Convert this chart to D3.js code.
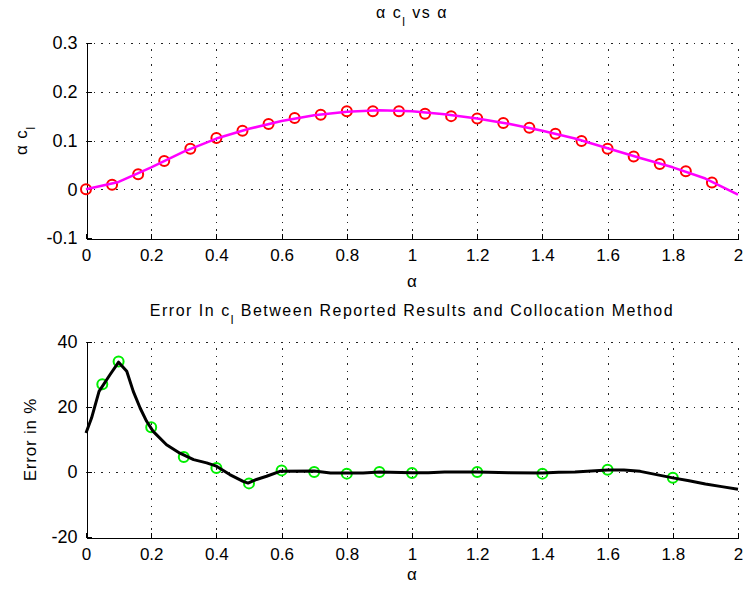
<!DOCTYPE html>
<html>
<head>
<meta charset="utf-8">
<script src="https://cdn.jsdelivr.net/npm/d3@7"></script>
<style>
  html, body { margin: 0; padding: 0; background: #ffffff; }
  svg { display: block; }
  text { font-family: "Liberation Sans", Arial, sans-serif; fill: #000; }
</style>
</head>
<body>
<svg id="chart" width="743" height="594"></svg>
<script>
// ---------- DATA ----------
// Top panel: alpha * c_l vs alpha
const topMarkerAlpha = [0, 0.08, 0.16, 0.24, 0.32, 0.40, 0.48, 0.56, 0.64, 0.72, 0.80, 0.88, 0.96,
  1.04, 1.12, 1.20, 1.28, 1.36, 1.44, 1.52, 1.60, 1.68, 1.76, 1.84, 1.92];
const topMarkerValue = [0, 0.009, 0.031, 0.058, 0.083, 0.105, 0.120, 0.134, 0.146, 0.153, 0.160, 0.160, 0.160,
  0.155, 0.150, 0.145, 0.136, 0.126, 0.114, 0.099, 0.083, 0.067, 0.052, 0.037, 0.014];
const topLineAlpha = [0, 0.1, 0.2, 0.3, 0.4, 0.5, 0.6, 0.7, 0.8, 0.9, 1.0, 1.1, 1.2, 1.3, 1.4, 1.5, 1.6, 1.7, 1.8, 1.9, 2.0];
const topLineValue = [0, 0.015, 0.045, 0.077, 0.104, 0.124, 0.140, 0.152, 0.159, 0.162, 0.160, 0.154, 0.145,
  0.134, 0.120, 0.104, 0.084, 0.064, 0.045, 0.022, -0.011];

// Bottom panel: error in c_l (%)
const errMarkerAlpha = [0.05, 0.1, 0.2, 0.3, 0.4, 0.5, 0.6, 0.7, 0.8, 0.9, 1.0, 1.2, 1.4, 1.6, 1.8];
const errMarkerValue = [27, 34, 13.8, 4.6, 1.2, -3.5, 0.5, 0, -0.5, 0, -0.3, 0, -0.5, 0.7, -1.8];
const errLineAlpha = [0, 0.017, 0.04, 0.074, 0.1, 0.125, 0.145, 0.166, 0.186, 0.206, 0.247, 0.288, 0.33, 0.37,
  0.40, 0.441, 0.482, 0.497, 0.523, 0.554, 0.595, 0.7, 0.75, 0.85, 0.9, 1.0, 1.05, 1.1, 1.2, 1.3, 1.4, 1.45,
  1.5, 1.55, 1.6, 1.65, 1.7, 1.75, 1.8, 1.85, 1.9, 1.95, 2.0];
const errLineValue = [12, 16.6, 24.8, 30, 33.8, 31, 24.8, 19.7, 15.6, 12.5, 8.4, 5.8, 3.8, 2.8,
  1.8, -0.8, -2.9, -3.4, -2.3, -1.3, 0.2, 0.3, -0.3, -0.3, 0, -0.2, -0.2, 0, 0, -0.2, -0.3, -0.1,
  0, 0.3, 0.6, 0.6, 0.2, -0.8, -1.8, -2.7, -3.7, -4.5, -5.3];

// Tick labels
const xTickValues = [0, 0.2, 0.4, 0.6, 0.8, 1, 1.2, 1.4, 1.6, 1.8, 2];
const xTickLabels = ["0", "0.2", "0.4", "0.6", "0.8", "1", "1.2", "1.4", "1.6", "1.8", "2"];
const topYTickValues = [-0.1, 0, 0.1, 0.2, 0.3];
const topYTickLabels = ["-0.1", "0", "0.1", "0.2", "0.3"];
const botYTickValues = [-20, 0, 20, 40];
const botYTickLabels = ["-20", "0", "20", "40"];

// ---------- DRAW ----------
const svg = d3.select("#chart");
const left = 86, right = 738;

function panel(cfg) {
  const x = d3.scaleLinear().domain([0, 2]).range([left, right]);
  const y = d3.scaleLinear().domain(cfg.yDomain).range([cfg.bottom, cfg.top]);
  const g = svg.append("g");

  // grid (dotted)
  const grid = g.append("g").attr("shape-rendering", "crispEdges")
    .attr("stroke", "#222").attr("stroke-width", 1.5).attr("stroke-dasharray", "1.5,6");
  grid.selectAll("line.gx").data(xTickValues.slice(1)).enter().append("line")
    .attr("x1", d => Math.round(x(d)) + 0.5).attr("x2", d => Math.round(x(d)) + 0.5)
    .attr("y1", cfg.bottom).attr("y2", cfg.top);
  grid.selectAll("line.gy").data(cfg.yTicks.slice(1)).enter().append("line")
    .attr("y1", d => Math.round(y(d)) + 0.5).attr("y2", d => Math.round(y(d)) + 0.5)
    .attr("x1", left).attr("x2", right);

  // axes
  const xAxis = d3.axisBottom(x).tickValues(xTickValues)
    .tickFormat((d, i) => xTickLabels[i]).tickSizeInner(-5).tickSizeOuter(0).tickPadding(10);
  const yAxis = d3.axisLeft(y).tickValues(cfg.yTicks)
    .tickFormat((d, i) => cfg.yLabels[i]).tickSizeInner(-5).tickSizeOuter(0).tickPadding(9);

  const gx = g.append("g").attr("transform", `translate(0,${cfg.bottom + 0.5})`).call(xAxis);
  const gy = g.append("g").attr("transform", `translate(${left + 0.5},0)`).call(yAxis);
  [gx, gy].forEach(a => {
    a.selectAll("path, line").attr("stroke", "#000").attr("shape-rendering", "crispEdges");
    a.selectAll("text").attr("font-size", 18).attr("font-family", '"Liberation Sans", Arial, sans-serif')
      .attr("fill", "#111");
  });
  gx.selectAll("text").attr("font-size", 17).attr("dy", "0.71em");

  // series
  const line = d3.line().x(d => x(d[0])).y(d => y(d[1]));
  const markers = cfg.mx.map((v, i) => [v, cfg.my[i]]);
  const pts = cfg.lx.map((v, i) => [v, cfg.ly[i]]);

  g.append("g").selectAll("circle").data(markers).enter().append("circle")
    .attr("cx", d => x(d[0])).attr("cy", d => y(d[1])).attr("r", 5)
    .attr("fill", "none").attr("stroke", cfg.markerColor).attr("stroke-width", 2);
  g.append("path").datum(pts).attr("d", line)
    .attr("fill", "none").attr("stroke", cfg.lineColor).attr("stroke-width", cfg.lineWidth)
    .attr("stroke-linejoin", "round");

  // title
  const t = g.append("text").attr("x", (left + right) / 2).attr("y", cfg.titleY)
    .attr("text-anchor", "middle").attr("font-size", 16).attr("letter-spacing", 1.5);
  cfg.title.forEach(p => {
    const ts = t.append("tspan").text(p.t);
    if (p.sub) ts.attr("font-size", 12).attr("dy", 8);
    if (p.up) ts.attr("dy", -8);
  });

  // x label
  g.append("text").attr("x", (left + right) / 2).attr("y", cfg.xLabelY)
    .attr("text-anchor", "middle").attr("font-size", 17).text("α");

  // y label
  const yl = g.append("text")
    .attr("transform", `translate(${cfg.yLabelX},${(cfg.top + cfg.bottom) / 2}) rotate(-90)`)
    .attr("text-anchor", "middle").attr("font-size", 17).attr("letter-spacing", 0.8);
  cfg.yLabel.forEach(p => {
    const ts = yl.append("tspan").text(p.t);
    if (p.sub) ts.attr("font-size", 12).attr("dy", 8);
  });
}

panel({
  top: 43, bottom: 238, yDomain: [-0.1, 0.3], yTicks: topYTickValues, yLabels: topYTickLabels,
  mx: topMarkerAlpha, my: topMarkerValue, lx: topLineAlpha, ly: topLineValue,
  markerColor: "#ff0000", lineColor: "#ff00ff", lineWidth: 2.5,
  titleY: 17.5, title: [{t: "α c"}, {t: "l", sub: true}, {t: " vs α", up: true}],
  xLabelY: 287, yLabelX: 27, yLabel: [{t: "α c"}, {t: "l", sub: true}]
});

panel({
  top: 342, bottom: 537, yDomain: [-20, 40], yTicks: botYTickValues, yLabels: botYTickLabels,
  mx: errMarkerAlpha, my: errMarkerValue, lx: errLineAlpha, ly: errLineValue,
  markerColor: "#00ee00", lineColor: "#000000", lineWidth: 3,
  titleY: 316,
  title: [{t: "Error In c"}, {t: "l", sub: true}, {t: " Between Reported Results and Collocation Method", up: true}],
  xLabelY: 580, yLabelX: 36, yLabel: [{t: "Error in %"}]
});
</script>
</body>
</html>
